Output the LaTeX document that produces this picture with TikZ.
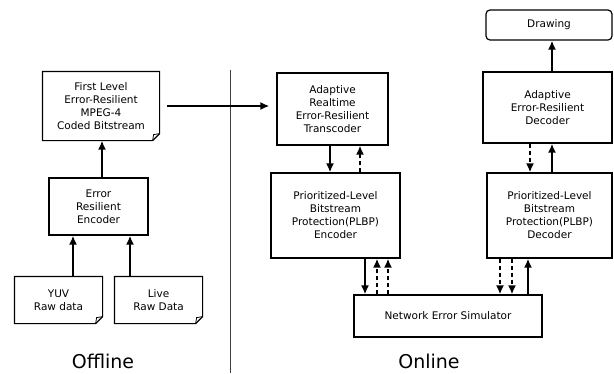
\documentclass[tikz,border=0pt]{standalone}
\usepackage{fontspec}
\setmainfont{DejaVu Sans}
\usetikzlibrary{arrows.meta,calc}

\tikzset{
  blk/.style={draw,line width=1.2pt,align=center,inner sep=2pt,
    font=\fontsize{10.5}{13}\selectfont},
  doc/.style={blk,draw=none},
  flow/.style={-{Latex[length=9pt,width=8pt]},line width=2.2pt},
  back/.style={flow,dash pattern=on 4pt off 3pt},
  side/.style={font=\fontsize{19}{22}\selectfont}
}

\begin{document}
\begin{tikzpicture}[x=1pt,y=-1pt]
      \useasboundingbox (0,0) rectangle (614,373);

      % offline part
      \node[doc,minimum width=116pt,minimum height=68pt] (first) at (101,106)
        {First Level\\Error-Resilient\\MPEG-4\\Coded Bitstream};
      \node[blk,minimum width=99pt,minimum height=57pt] (enc) at (98.5,206.5)
        {Error\\Resilient\\Encoder};
      \node[doc,minimum width=87pt,minimum height=46pt] (yuv) at (58.5,300)
        {YUV\\Raw data};
      \node[doc,minimum width=87pt,minimum height=46pt] (live) at (158.5,300)
        {Live\\Raw Data};

      % folded corners
      \foreach \n in {first,yuv,live} {
        \draw[line width=1.2pt] (\n.north west) -- (\n.north east)
          -- ($(\n.south east)+(0,-7)$) -- ($(\n.south east)+(-7,0)$)
          -- (\n.south west) -- cycle;
        \draw[line width=0.8pt] ($(\n.south east)+(0,-7)$) -- ($(\n.south east)+(-6,-6)$)
          -- ($(\n.south east)+(-7,0)$);
      }

      \draw[flow] (yuv.north -| 73,0) -- (enc.south -| 73,0);
      \draw[flow] (live.north -| 130,0) -- (enc.south -| 130,0);
      \draw[flow] (enc.north -| 102,0) -- (first.south -| 102,0);

      \node[side] (offline) at (103,361) {Offline};

      % divider
      \draw[black!75,line width=0.7pt] (230,70) -- (230,373);

      % online part
      \node[blk,minimum width=111pt,minimum height=72pt] (trans) at (332.5,109)
        {Adaptive\\Realtime\\Error-Resilient\\Transcoder};
      \node[blk,minimum width=129pt,minimum height=85pt] (plbpenc) at (335.5,215.5)
        {Prioritized-Level\\Bitstream\\Protection(PLBP)\\Encoder};
      \node[blk,minimum width=188pt,minimum height=42pt] (nes) at (448,316)
        {Network Error Simulator};
      \node[blk,rounded corners=4pt,minimum width=126pt,minimum height=30pt] (drawing) at (549,25)
        {Drawing};
      \node[blk,minimum width=129pt,minimum height=71pt,text depth=-6pt] (dec) at (547.5,107.5)
        {Adaptive\\Error-Resilient\\Decoder};
      \node[blk,minimum width=125pt,minimum height=85pt] (plbpdec) at (549.5,215.5)
        {Prioritized-Level\\Bitstream\\Protection(PLBP)\\Decoder};

      \draw[flow,shorten <=7pt,shorten >=7pt] (first.east |- 0,106) -- (trans.west |- 0,106);

      \draw[flow] (trans.south -| 330,0) -- (plbpenc.north -| 330,0);
      \draw[back] (plbpenc.north -| 360,0) -- (trans.south -| 360,0);

      \draw[flow] (plbpenc.south -| 365,0) -- (nes.north -| 365,0);
      \draw[back] (nes.north -| 377,0) -- (plbpenc.south -| 377,0);
      \draw[back] (nes.north -| 388,0) -- (plbpenc.south -| 388,0);

      \draw[back] (plbpdec.south -| 500,0) -- (nes.north -| 500,0);
      \draw[back] (plbpdec.south -| 512,0) -- (nes.north -| 512,0);
      \draw[flow] (nes.north -| 528,0) -- (plbpdec.south -| 528,0);

      \draw[back] (dec.south -| 530,0) -- (plbpdec.north -| 530,0);
      \draw[flow] (plbpdec.north -| 552,0) -- (dec.south -| 552,0);
      \draw[flow] (dec.north -| 552,0) -- (drawing.south -| 552,0);

      \node[side] (online) at (429,361) {Online};
\end{tikzpicture}
\end{document}
